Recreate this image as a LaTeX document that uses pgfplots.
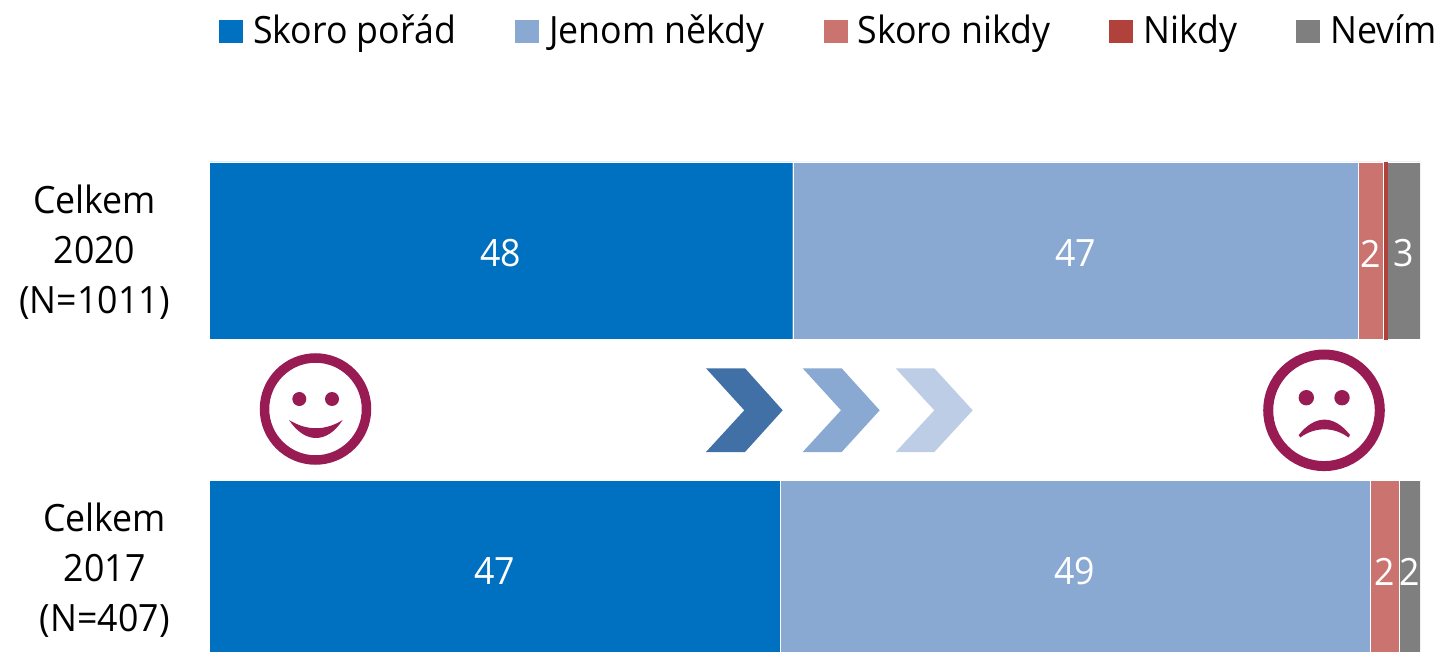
\documentclass[border=0pt]{standalone}
\usepackage{pgfplots}
\pgfplotsset{compat=1.18}
\usepackage{fontspec}
\setmainfont{Open Sans}[FakeStretch=0.95]

\definecolor{cAlways}{HTML}{0070C0}
\definecolor{cSometimes}{HTML}{8AA9D2}
\definecolor{cRarely}{HTML}{CB736F}
\definecolor{cNever}{HTML}{B0423B}
\definecolor{cDontKnow}{HTML}{7F7F7F}
\definecolor{cFace}{HTML}{981B54}
\definecolor{cArrowA}{HTML}{4170A7}
\definecolor{cArrowB}{HTML}{8AA9D2}
\definecolor{cArrowC}{HTML}{BCCDE5}

\begin{document}
\begin{tikzpicture}
  \useasboundingbox (0,0) rectangle (720pt,-326pt);
  \begin{axis}[
      at={(104.5pt,-326pt)}, anchor=south west,
      scale only axis,
      width=605.5pt, height=326pt,
      xbar stacked,
      bar width=88.5pt,
      y dir=reverse,
      xmin=0, xmax=100,
      ymin=-0.7877, ymax=1.2626,
      ytick={0,1},
      yticklabels={{Celkem\\2020\\(N=1011)},{Celkem\\2017\\(N=407)}},
      yticklabel style={align=center, font=\fontsize{18.8}{25}\selectfont, text=black},
      y tick label style={inner sep=0pt, xshift=-19.5pt, yshift=-1pt},
      major tick length=0pt,
      axis x line=none,
      y axis line style={draw=none},
      ytick style={draw=none},
      point meta=explicit,
      /pgf/number format/assume math mode=true,
      nodes near coords style={text=white, yshift=-1.5pt, font=\fontsize{18.8}{21}\selectfont},
      legend columns=5,
      legend style={
        at={(0.0083,0.984)}, anchor=north west,
        draw=none, fill=none, inner sep=0pt, outer sep=0pt,
        font=\fontsize{18.8}{21}\selectfont,
        /tikz/every odd column/.append style={column sep=3pt},
        /tikz/every even column/.append style={column sep=27.5pt},
      },
      legend cell align=left,
      legend image code/.code={\path[#1,draw=none] (0pt,-6.25pt) rectangle (12pt,5.25pt);},
    ]
    \addplot[fill=cAlways,draw=white,line width=0.15pt,nodes near coords]
      coordinates {(48.2,0) [48] (47.15,1) [47]};
    \addplot[fill=cSometimes,draw=white,line width=0.15pt,nodes near coords]
      coordinates {(46.7,0) [47] (48.7,1) [49]};
    \addplot[fill=cRarely,draw=white,line width=0.15pt,nodes near coords]
      coordinates {(2.03,0) [2] (2.4,1) [2]};
    \addplot[fill=cNever,draw=cNever,line width=0.15pt]
      coordinates {(0.33,0) [0] (0,1) [0]};
    \addplot[fill=cDontKnow,draw=white,line width=0.15pt,nodes near coords]
      coordinates {(2.74,0) [3] (1.75,1) [2]};
    \legend{Skoro pořád,Jenom někdy,Skoro nikdy,Nikdy,Nevím}
  \end{axis}

  \begin{scope}[x=0.5pt,y=-0.5pt]
    % usmev
    \draw[cFace,line width=4.75pt] (315.5,409) circle[radius=51];
    \fill[cFace] (299.3,399) circle[radius=7] (332,399) circle[radius=7];
    \fill[cFace] (289,420) .. controls (305,444) and (327,444) .. (342.7,420)
      .. controls (325,431) and (307,431) .. (289,420) -- cycle;
    % mracoun
    \draw[cFace,line width=5pt] (1324,410.3) circle[radius=55.8];
    \fill[cFace] (1306.3,397.7) circle[radius=7.7] (1342,397.7) circle[radius=7.7];
    \fill[cFace] (1298.7,435) .. controls (1315,414.5) and (1334,414.5) .. (1350,435)
      -- (1348.5,437.5) .. controls (1334,426.6) and (1315,426.6) .. (1300.2,437.5) -- cycle;
    % sipky
    \fill[cArrowA] (706,368.3) -- (745,368.3) -- (782.7,410.3) -- (745,452) -- (706,452) -- (744.3,410.3) -- cycle;
    \fill[cArrowB] (802.7,368.3) -- (841.7,368.3) -- (879.7,410.3) -- (841.7,452) -- (802.7,452) -- (841,410.3) -- cycle;
    \fill[cArrowC] (895.7,368.3) -- (934.3,368.3) -- (972.7,410.3) -- (934.3,452) -- (895.7,452) -- (934.3,410.3) -- cycle;
  \end{scope}
\end{tikzpicture}
\end{document}
